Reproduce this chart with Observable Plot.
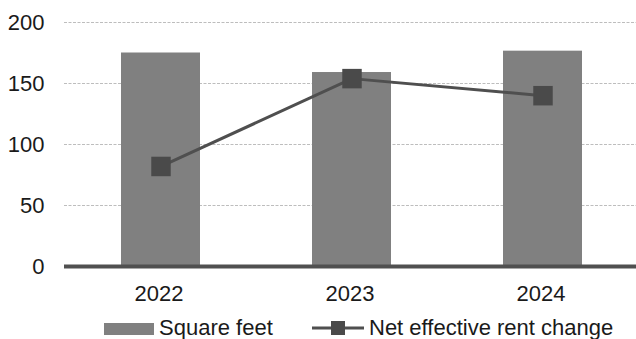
<!DOCTYPE html>
<html>
<head>
<meta charset="utf-8">
<script src="https://cdn.jsdelivr.net/npm/d3@7"></script>
<script src="https://cdn.jsdelivr.net/npm/@observablehq/plot@0.6"></script>
<style>
  body { margin: 0; background: #fff; font-family: "Liberation Sans", Arial, sans-serif; }
  #wrap { position: relative; width: 636px; height: 339px; }
  #legend { position: absolute; left: 0; top: 310px; width: 636px; height: 29px; font-size: 22px; color: #1a1a1a; }
  .item { position: absolute; top: 7px; height: 22px; line-height: 22px; white-space: nowrap; }
  .swatch { position: absolute; }
</style>
</head>
<body>
<div id="wrap">
  <div id="chart"></div>
  <div id="legend"></div>
</div>
<script>
// Years on the category axis
const years = ["2022", "2023", "2024"];
// Bar series: square feet
const squareFeet = [175, 159, 176.5];
// Line series: net effective rent change
const rentChange = [82, 154, 140];
// Value axis ticks
const yTicks = [0, 50, 100, 150, 200];

const seriesNames = ["Square feet", "Net effective rent change"];

const rows = years.map((y, i) => ({year: y, sqft: squareFeet[i], rent: rentChange[i]}));

const textColor = "#1a1a1a";
const barColor = "#808080";
const lineColor = "#4f4f4f";

const chart = Plot.plot({
  width: 636,
  height: 310,
  marginTop: 22,
  marginBottom: 44,
  marginLeft: 64,
  marginRight: 0,
  style: {fontFamily: "'Liberation Sans', Arial, sans-serif", fontSize: "22px", color: textColor, background: "#fff"},
  x: {domain: years, range: [64, 638], paddingInner: 0.587, paddingOuter: 0.2935, label: null},
  y: {domain: [0, 200], label: null},
  marks: [
    Plot.gridY(yTicks.filter(d => d > 0), {stroke: "#bdbdbd", strokeOpacity: 1, strokeDasharray: "3,1.5", strokeWidth: 1}),
    Plot.barY(rows, {x: "year", y: "sqft", fill: barColor}),
    Plot.ruleY([0], {stroke: "#505050", strokeWidth: 4}),
    Plot.line(rows, {x: "year", y: "rent", stroke: lineColor, strokeWidth: 3}),
    Plot.dot(rows, {x: "year", y: "rent", symbol: "square", r: 11, fill: "#4a4a4a", stroke: "none"}),
    Plot.axisY({ticks: yTicks, tickSize: 0, tickPadding: 20, fill: textColor, fontSize: 22}),
    Plot.axisX({tickSize: 0, tickPadding: 19, fill: textColor, fontSize: 22, dx: -2})
  ]
});
document.getElementById("chart").appendChild(chart);

// Legend below the plot
const legend = document.getElementById("legend");
legend.innerHTML = `
  <div class="swatch" style="left:104px; top:13px; width:50px; height:12px; background:${barColor};"></div>
  <div class="item" style="left:159px;">${seriesNames[0]}</div>
  <svg class="swatch" style="left:312px; top:10px;" width="52" height="16">
    <line x1="0" y1="8" x2="52" y2="8" stroke="${lineColor}" stroke-width="3"></line>
    <rect x="19" y="1" width="14" height="14" fill="#4a4a4a"></rect>
  </svg>
  <div class="item" style="left:369px;">${seriesNames[1]}</div>
`;
</script>
</body>
</html>
